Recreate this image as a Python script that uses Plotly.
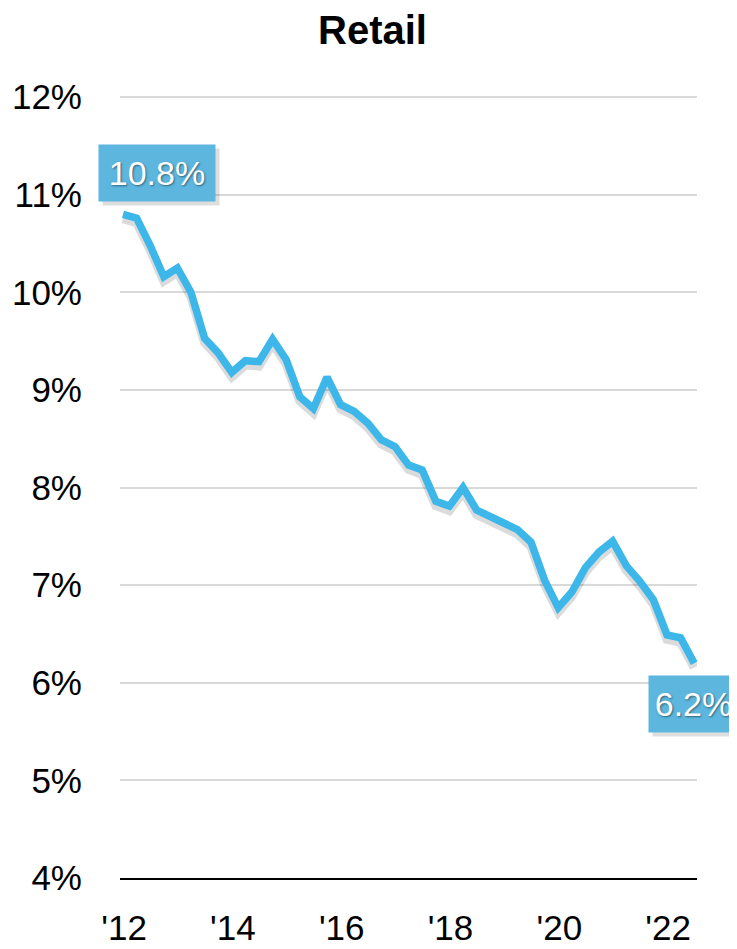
import plotly.graph_objects as go

# ---- data ----
years = [2012, 2013, 2014, 2015, 2016, 2017, 2018, 2019, 2020, 2021, 2022]
quarters_per_year = [4, 4, 4, 4, 4, 4, 4, 4, 4, 4, 3]
retail_pct = [
    10.80, 10.76, 10.48, 10.16,
    10.25, 10.00, 9.53, 9.38,
    9.18, 9.30, 9.29, 9.52,
    9.31, 8.93, 8.81, 9.13,
    8.85, 8.78, 8.66, 8.49,
    8.42, 8.23, 8.18, 7.86,
    7.81, 8.00, 7.77, 7.71,
    7.64, 7.57, 7.44, 7.05,
    6.77, 6.93, 7.18, 7.34,
    7.45, 7.20, 7.04, 6.85,
    6.49, 6.46, 6.20,
]
tick_years = [2012, 2014, 2016, 2018, 2020, 2022]
tick_text = ["'12", "'14", "'16", "'18", "'20", "'22"]
y_ticks = [4, 5, 6, 7, 8, 9, 10, 11, 12]
y_tick_text = [f"{v}%" for v in y_ticks]
title_text = "Retail"
first_label = "10.8%"
last_label = "6.2%"

x_pos = [y + q / 4 for y, n in zip(years, quarters_per_year) for q in range(n)]

FONT = "Liberation Sans, Arial, sans-serif"
LINE_COLOR = "#3DB7E9"
BOX_COLOR = "#5CB6DD"
SHADOW = "rgba(0,0,0,0.14)"

# the page body adds an 8px margin, so the figure is 8px smaller each way
W, H = 729, 941

fig = go.Figure()
fig.add_trace(go.Scatter(
    x=x_pos, y=[v - 0.045 for v in retail_pct], mode="lines",
    line=dict(color=SHADOW, width=9),
    hoverinfo="skip", showlegend=False,
))
fig.add_trace(go.Scatter(
    x=x_pos, y=retail_pct, mode="lines",
    line=dict(color=LINE_COLOR, width=7.5, shape="linear"),
    hoverinfo="skip", showlegend=False,
))

label_font = dict(family=FONT, size=34, color="white",
                  shadow="1px 1px 2px rgba(0,0,0,0.45)")

for (xv, yv, txt, xa, ya, xs, ys, w) in [
    (x_pos[0], retail_pct[0], first_label, "left", "bottom", -25, 12, 116),
    (x_pos[-1], retail_pct[-1], last_label, "left", "top", -46, -12, 89),
]:
    fig.add_annotation(
        x=xv, y=yv, xref="x", yref="y", text="", showarrow=False,
        xanchor=xa, yanchor=ya, xshift=xs + 4, yshift=ys - 4,
        width=w, height=56, borderpad=0, bgcolor="rgba(0,0,0,0.13)",
    )
    fig.add_annotation(
        x=xv, y=yv, xref="x", yref="y", text=txt, showarrow=False,
        xanchor=xa, yanchor=ya, xshift=xs, yshift=ys,
        width=w, height=56, borderpad=0, align="center",
        bgcolor=BOX_COLOR, font=label_font,
    )

fig.update_layout(
    width=W, height=H,
    margin=dict(l=112, r=40, t=88, b=71),
    paper_bgcolor="white", plot_bgcolor="white",
    title=dict(text=f"<b>{title_text}</b>", x=0.5, xanchor="center",
               y=1 - 22 / H, yanchor="middle",
               font=dict(family=FONT, size=40, color="black")),
    font=dict(family=FONT, color="black"),
    showlegend=False,
)
fig.update_xaxes(
    range=[2011.945, 2022.551],
    tickvals=[y + 0.02 for y in tick_years], ticktext=tick_text,
    showgrid=False, zeroline=False,
    showline=True, linecolor="black", linewidth=2,
    ticks="", ticklabelstandoff=18, automargin=False,
    tickfont=dict(family=FONT, size=35, color="black"),
    fixedrange=True,
)
fig.update_yaxes(
    range=[4, 12.012],
    tickvals=y_ticks, ticktext=y_tick_text,
    showgrid=True, gridcolor="#D9D9D9", gridwidth=2,
    zeroline=False, showline=False,
    ticks="", ticklabelstandoff=37, automargin=False,
    tickfont=dict(family=FONT, size=35, color="black"),
    fixedrange=True,
)

fig.write_html("out.html")
